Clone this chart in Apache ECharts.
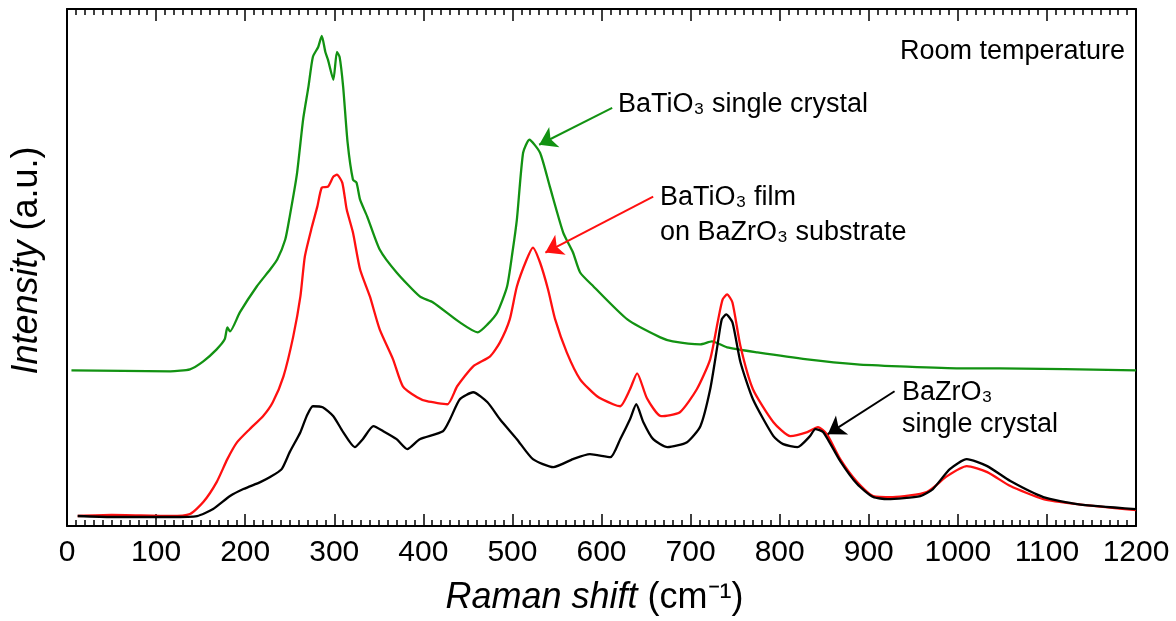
<!DOCTYPE html>
<html>
<head>
<meta charset="utf-8">
<script src="https://cdn.jsdelivr.net/npm/echarts@6/dist/echarts.min.js"></script>
<style>
html,body{margin:0;padding:0;background:#fff;}
#chart{width:1176px;height:621px;}
</style>
</head>
<body>
<div id="chart"></div>
<script>
// Raman shift (cm^-1) vs intensity (arbitrary units, offset curves)
const xTicks = [0,100,200,300,400,500,600,700,800,900,1000,1100,1200];

const batioCrystal = [[5,156],[116,155],[138,157],[153,165],[168,177],[177,187],[180,199],[183,195],[194,214],[213,240],[228,257],[236,267],[245,287],[250,310],[258,352],[265,407],[271,440],[276,470],[282,480],[286,491],[290,475],[293,467],[299,447],[303,475],[306,470],[310,440],[315,384],[321,347],[325,344],[329,327],[337,310],[351,277],[370,254],[396,230],[411,224],[441,204],[461,194],[472,202],[483,214],[494,240],[500,274],[505,307],[512,374],[519,387],[531,374],[542,340],[557,294],[568,274],[576,254],[591,240],[629,207],[666,189],[680,185],[711,182],[724,185],[741,179],[775,174],[831,167],[887,162],[935,160],[1002,158],[1047,158],[1200,156]];

const batioFilm = [[12,10],[50,11],[116,10],[138,12],[153,24],[168,44],[180,67],[191,84],[205,97],[220,110],[231,124],[243,150],[254,190],[262,230],[267,270],[275,300],[281,320],[286,339],[293,340],[299,350],[303,352],[309,344],[314,317],[321,294],[329,257],[340,230],[351,197],[366,167],[377,140],[393,129],[404,125],[427,122],[438,140],[456,160],[475,170],[486,184],[497,207],[505,240],[516,267],[523,279],[531,264],[540,237],[548,207],[561,174],[576,147],[595,130],[613,122],[621,120],[632,137],[640,153],[651,128],[667,110],[688,114],[707,137],[722,167],[731,207],[736,227],[741,232],[747,224],[756,180],[770,137],[793,104],[812,90],[831,94],[843,99],[853,92],[868,67],[887,44],[905,30],[927,29],[965,34],[988,50],[1010,60],[1033,54],[1059,40],[1096,27],[1134,22],[1200,16]];

const bazroCrystal = [[12,10],[50,9],[116,9],[146,10],[164,17],[183,30],[198,37],[217,44],[228,49],[241,57],[250,74],[262,94],[269,110],[276,120],[287,119],[299,110],[310,94],[323,79],[332,87],[344,100],[355,95],[370,87],[382,77],[396,87],[422,95],[430,107],[441,127],[456,134],[472,124],[486,107],[505,87],[523,67],[546,59],[568,67],[587,72],[610,69],[621,87],[632,107],[639,122],[647,104],[658,87],[674,79],[696,84],[711,100],[722,137],[730,180],[735,207],[740,212],[747,204],[756,164],[770,127],[793,90],[804,82],[820,79],[834,90],[840,97],[849,94],[868,65],[887,42],[905,29],[921,27],[958,30],[972,37],[991,57],[1010,67],[1033,60],[1059,45],[1096,29],[1134,22],[1200,17]];

// annotation arrows: [start, end] in data coordinates
const arrowGreen = [[612,419],[530,382]];
const arrowRed = [[658,330],[537,274]];
const arrowBlack = [[929,135],[854,92]];

const FONT = '"Liberation Sans", Arial, sans-serif';
const GREEN = '#129212', RED = '#ff1010', BLACK = '#000000';

function arrow(pts, color){
  return {
    silent: true, animation: false,
    symbol: ['none','arrow'], symbolSize: 17,
    label: {show:false},
    lineStyle: {color: color, width: 2, type: 'solid'},
    data: [[{coord: pts[0]}, {coord: pts[1]}]]
  };
}

const chart = echarts.init(document.getElementById('chart'), null, {renderer:'canvas'});
const tickStyle = {show:true, inside:true, length:12, lineStyle:{color:'#000', width:1.5}};
const minorStyle = {show:true, splitNumber:10, length:6, lineStyle:{color:'#000', width:1.5}};
chart.setOption({
  animation: false,
  backgroundColor: '#fff',
  grid: {left:67, right:40, top:9, bottom:94, containLabel:false},
  xAxis: [{
    type:'value', min:0, max:1200, interval:100, position:'bottom',
    axisLine:{show:true, onZero:false, lineStyle:{color:'#000', width:2}},
    axisTick: tickStyle, minorTick: minorStyle,
    splitLine:{show:false}, minorSplitLine:{show:false},
    axisLabel:{show:true, color:'#000', fontSize:30, fontFamily:FONT, margin:12,
      formatter: v => xTicks.includes(v) ? String(v) : ''},
    name:'{i|Raman shift} (cm⁻¹)', nameLocation:'middle', nameGap:54,
    nameTextStyle:{color:'#000', fontSize:36, fontFamily:FONT, padding:[0,14,0,0],
      rich:{i:{fontStyle:'italic', fontSize:36, fontFamily:FONT, color:'#000'}}}
  },{
    type:'value', min:0, max:1200, interval:100, position:'top',
    axisLine:{show:true, onZero:false, lineStyle:{color:'#000', width:2}},
    axisTick: tickStyle, minorTick: minorStyle,
    splitLine:{show:false}, axisLabel:{show:false}
  }],
  yAxis: [{
    type:'value', min:0, max:518, position:'left',
    axisLine:{show:true, onZero:false, lineStyle:{color:'#000', width:2}},
    axisTick:{show:false}, axisLabel:{show:false}, splitLine:{show:false},
    name:'{i|Intensity} (a.u.)', nameLocation:'middle', nameGap:22, nameRotate:90,
    nameTextStyle:{color:'#000', fontSize:36, fontFamily:FONT, padding:[0,0,0,14],
      rich:{i:{fontStyle:'italic', fontSize:36, fontFamily:FONT, color:'#000'}}}
  },{
    type:'value', min:0, max:518, position:'right',
    axisLine:{show:true, onZero:false, lineStyle:{color:'#000', width:2}},
    axisTick:{show:false}, axisLabel:{show:false}, splitLine:{show:false}
  }],
  series: [
    {name:'BaTiO₃ single crystal', type:'line', data:batioCrystal, showSymbol:false, symbol:'none', smooth:0.2,
     lineStyle:{color:GREEN, width:2.3}, itemStyle:{color:GREEN}, z:2, markLine: arrow(arrowGreen, GREEN)},
    {name:'BaTiO₃ film on BaZrO₃ substrate', type:'line', data:batioFilm, showSymbol:false, symbol:'none', smooth:0.2,
     lineStyle:{color:RED, width:2.3}, itemStyle:{color:RED}, z:3, markLine: arrow(arrowRed, RED)},
    {name:'BaZrO₃ single crystal', type:'line', data:bazroCrystal, showSymbol:false, symbol:'none', smooth:0.2,
     lineStyle:{color:BLACK, width:2.3}, itemStyle:{color:BLACK}, z:4, markLine: arrow(arrowBlack, BLACK)}
  ],
  graphic: [
    {type:'text', x:1125, y:52, silent:true, style:{text:'Room temperature', font:'27px '+FONT, fill:'#000', align:'right', verticalAlign:'middle'}},
    {type:'text', x:618, y:105, silent:true, style:{text:'BaTiO₃ single crystal', font:'27px '+FONT, fill:'#000', align:'left', verticalAlign:'middle'}},
    {type:'text', x:660, y:198, silent:true, style:{text:'BaTiO₃ film', font:'27px '+FONT, fill:'#000', align:'left', verticalAlign:'middle'}},
    {type:'text', x:660, y:233, silent:true, style:{text:'on BaZrO₃ substrate', font:'27px '+FONT, fill:'#000', align:'left', verticalAlign:'middle'}},
    {type:'text', x:902, y:393, silent:true, style:{text:'BaZrO₃', font:'27px '+FONT, fill:'#000', align:'left', verticalAlign:'middle'}},
    {type:'text', x:902, y:425, silent:true, style:{text:'single crystal', font:'27px '+FONT, fill:'#000', align:'left', verticalAlign:'middle'}}
  ]
});
</script>
</body>
</html>
